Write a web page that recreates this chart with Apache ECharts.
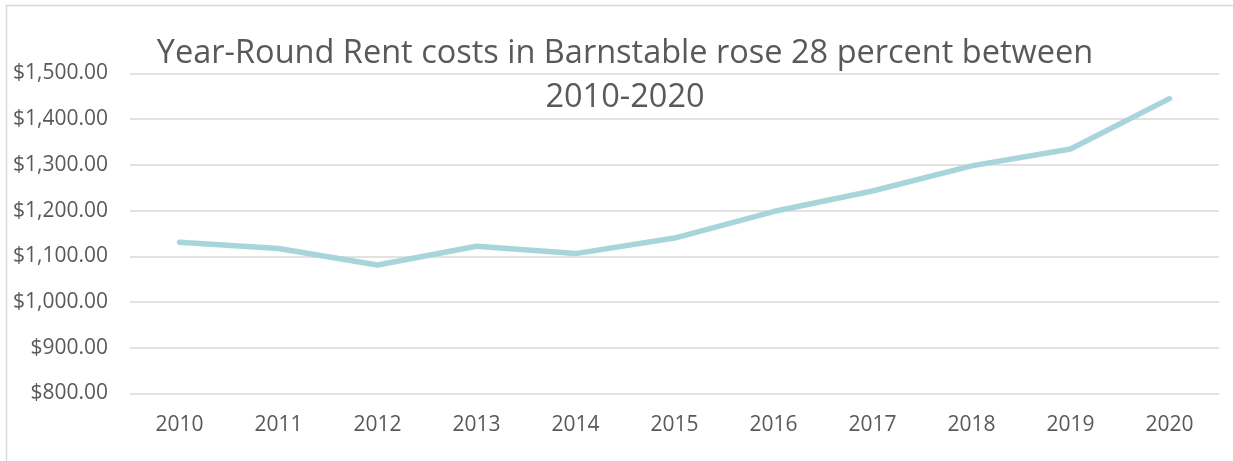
<!DOCTYPE html>
<html>
<head>
<meta charset="UTF-8">
<script src="https://cdn.jsdelivr.net/npm/echarts@6/dist/echarts.min.js"></script>
<title></title>
<style>
  html, body { margin: 0; padding: 0; background: #fff; }
  #main { width: 1233px; height: 461px; }
</style>
</head>
<body>
<div id="main"></div>
<script>
var years = ['2010', '2011', '2012', '2013', '2014', '2015', '2016', '2017', '2018', '2019', '2020'];
var rent = [1131, 1117, 1081, 1122, 1106, 1140, 1198, 1243, 1298, 1335, 1445];

var myChart = echarts.init(document.getElementById('main'));

myChart.setOption({
    animation: false,
    title: {
        text: 'Year-Round Rent costs in Barnstable rose 28 percent between\n2010-2020',
        left: 620,
        top: 27,
        textAlign: 'center',
        textStyle: {
            color: '#595959',
            fontSize: 32.5,
            fontWeight: 'normal',
            fontFamily: 'Open Sans',
            lineHeight: 44
        }
    },
    graphic: [{
        type: 'rect',
        shape: { x: 6.5, y: 5.5, width: 1240, height: 470 },
        style: { fill: 'none', stroke: '#d9d9d9', lineWidth: 1.5 },
        z: -1
    }],
    grid: {
        left: 130,
        right: 14,
        top: 73.5,
        bottom: 67.5
    },
    xAxis: {
        type: 'category',
        data: years,
        boundaryGap: true,
        axisLine: { show: false },
        axisTick: { show: false },
        axisLabel: {
            color: '#595959',
            fontSize: 21,
            fontFamily: 'Open Sans',
            margin: 21
        }
    },
    yAxis: {
        type: 'value',
        min: 800,
        max: 1500,
        interval: 100,
        axisLine: { show: false },
        axisTick: { show: false },
        splitLine: { lineStyle: { color: '#d9d9d9', width: 1.5 } },
        axisLabel: {
            color: '#595959',
            fontSize: 21,
            fontFamily: 'Open Sans',
            margin: 22,
            formatter: function (v) {
                return '$' + v.toLocaleString('en-US', { minimumFractionDigits: 2, maximumFractionDigits: 2 });
            }
        }
    },
    series: [{
        type: 'line',
        data: rent,
        symbol: 'none',
        lineStyle: { color: '#a8d5db', width: 5.5, cap: 'round', join: 'round' }
    }]
});
</script>
</body>
</html>
